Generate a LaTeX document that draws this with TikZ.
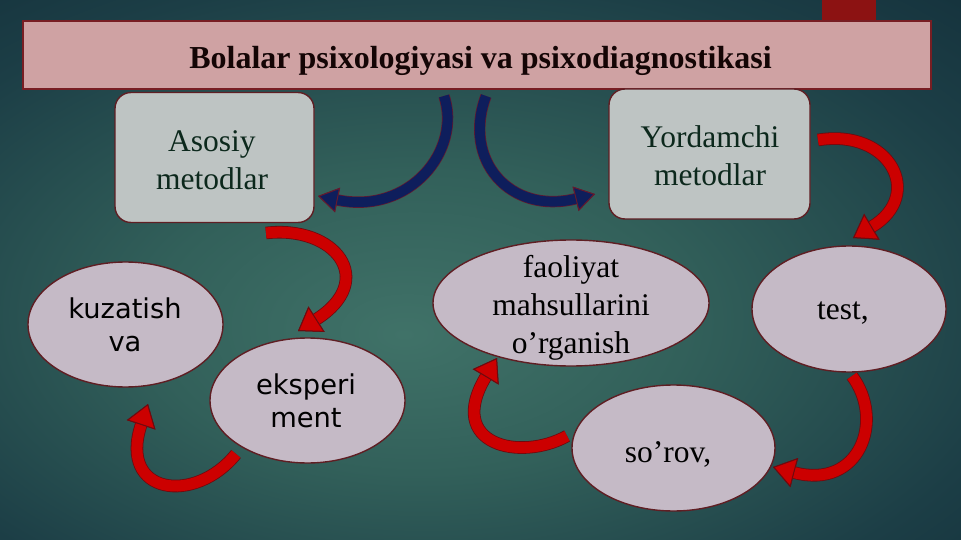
\documentclass[tikz,border=0pt]{standalone}
\usepackage{fontspec}
\setmainfont{Liberation Serif}
\newfontfamily\dvsans{DejaVu Sans}
\usetikzlibrary{shapes.geometric,arrows.meta}
\definecolor{bgA}{RGB}{64,114,104}
\definecolor{bgB}{RGB}{50,96,90}
\definecolor{bgC}{RGB}{28,62,70}
\definecolor{bgD}{RGB}{16,42,54}
\definecolor{bgE}{RGB}{12,34,46}
\definecolor{titlefill}{RGB}{207,162,163}
\definecolor{titleedge}{RGB}{120,30,35}
\definecolor{decorred}{RGB}{140,18,18}
\definecolor{boxfill}{RGB}{190,196,195}
\definecolor{edgecol}{RGB}{95,30,35}
\definecolor{ovalfill}{RGB}{197,186,198}
\definecolor{arrred}{RGB}{204,0,0}
\definecolor{rededge}{RGB}{110,10,15}
\definecolor{arrblue}{RGB}{14,30,92}
\definecolor{blueedge}{RGB}{100,25,45}
\definecolor{boxtextcol}{RGB}{12,40,28}
\pgfdeclareradialshading{bgshade}{\pgfpoint{-4bp}{-6bp}}{color(0bp)=(bgA); color(14bp)=(bgB); color(31bp)=(bgC); color(46bp)=(bgD); color(72bp)=(bgE)}
\begin{document}
\begin{tikzpicture}[x=1pt,y=-1pt,
  box/.style={draw=edgecol, line width=1.4pt, fill=boxfill, rounded corners=16pt, inner sep=0pt},
  oval/.style={ellipse, draw=edgecol, line width=1.4pt, fill=ovalfill, inner sep=0pt},
  sertext/.style={font=\fontsize{31.5}{37.8}\selectfont, align=center, inner sep=0pt, text=black},
  boxtext/.style={sertext, text=boxtextcol},
  santext/.style={font=\dvsans\fontsize{27.3}{33}\selectfont, align=center, inner sep=0pt, text=black},
  redarrow/.style={draw=arrred, line width=11pt,
    -{Triangle[width=30pt,length=22pt,line width=1pt,color=rededge,fill=arrred]},
    preaction={draw=rededge,line width=12.6pt}},
  bluearrow/.style={draw=arrblue, line width=10pt,
    -{Triangle[width=25pt,length=20pt,line width=1pt,color=blueedge,fill=arrblue]},
    preaction={draw=blueedge,line width=11.4pt}}
]
\useasboundingbox (0,0) rectangle (961,540);
\shade[shading=bgshade] (0,0) rectangle (961,540);
\fill[decorred] (822,0) rectangle (876,90);

% title
\node[draw=titleedge, line width=1.5pt, fill=titlefill, minimum width=908pt, minimum height=68pt, inner sep=0pt] (title) at (477,55) {};
\node[sertext, font=\fontsize{32}{38}\selectfont\bfseries, text={rgb,255:red,20;green,5;blue,5}] (titletext) at (480.5,60.7) {Bolalar psixologiyasi va psixodiagnostikasi};

% boxes
\node[box, minimum width=199pt, minimum height=130pt] (asosiy) at (214.5,157.5) {};
\node[boxtext] (asosiyt) at (212,160) {Asosiy\\metodlar};
\node[box, minimum width=201pt, minimum height=130pt] (yordam) at (709.5,154) {};
\node[boxtext] (yordamt) at (710,156) {Yordamchi\\metodlar};

% ellipses
\node[oval, minimum width=195pt, minimum height=125pt] (kuzat) at (125.5,324.5) {};
\node[santext] (kuzatt) at (125,325) {kuzatish\\va};
\node[oval, minimum width=195pt, minimum height=125pt] (eksp) at (307.5,400.5) {};
\node[santext] (ekspt) at (306,401) {eksperi\\ment};
\node[oval, minimum width=276pt, minimum height=126pt] (faol) at (571,303) {};
\node[sertext] (faolt) at (571,308) {faoliyat\\mahsullarini\\o’rganish};
\node[oval, minimum width=194pt, minimum height=126pt] (test) at (849,309) {};
\node[sertext] (testt) at (843,313) {test,};
\node[oval, minimum width=203pt, minimum height=126pt] (sorov) at (673.5,448) {};
\node[sertext] (sorovt) at (668,454) {so’rov,};

% connector end points
\coordinate (a1s) at (266,233);
\coordinate (a1e) at (298,331);
\coordinate (a2s) at (444,96);
\coordinate (a2e) at (318,196);
\coordinate (a3s) at (486,96);
\coordinate (a3e) at (595,194);
\coordinate (a4s) at (818,140);
\coordinate (a4e) at (853,238);
\coordinate (a5s) at (236,454);
\coordinate (a5e) at (148,404);
\coordinate (a6s) at (567,436);
\coordinate (a6e) at (497,358);
\coordinate (a7s) at (852,376);
\coordinate (a7e) at (773,467);

% arrows
\draw[bluearrow] (a2s) .. controls (462,150) and (410,215) .. (a2e);
\draw[bluearrow] (a3s) .. controls (462,160) and (510,215) .. (a3e);
\draw[redarrow] (a1s) .. controls (335,225) and (378,280) .. (a1e);
\draw[redarrow] (a4s) .. controls (890,128) and (925,195) .. (a4e);
\draw[redarrow] (a5s) .. controls (195,505) and (118,495) .. (a5e);
\draw[redarrow] (a6s) .. controls (520,462) and (445,445) .. (a6e);
\draw[redarrow] (a7s) .. controls (885,420) and (860,490) .. (a7e);
\end{tikzpicture}
\end{document}
